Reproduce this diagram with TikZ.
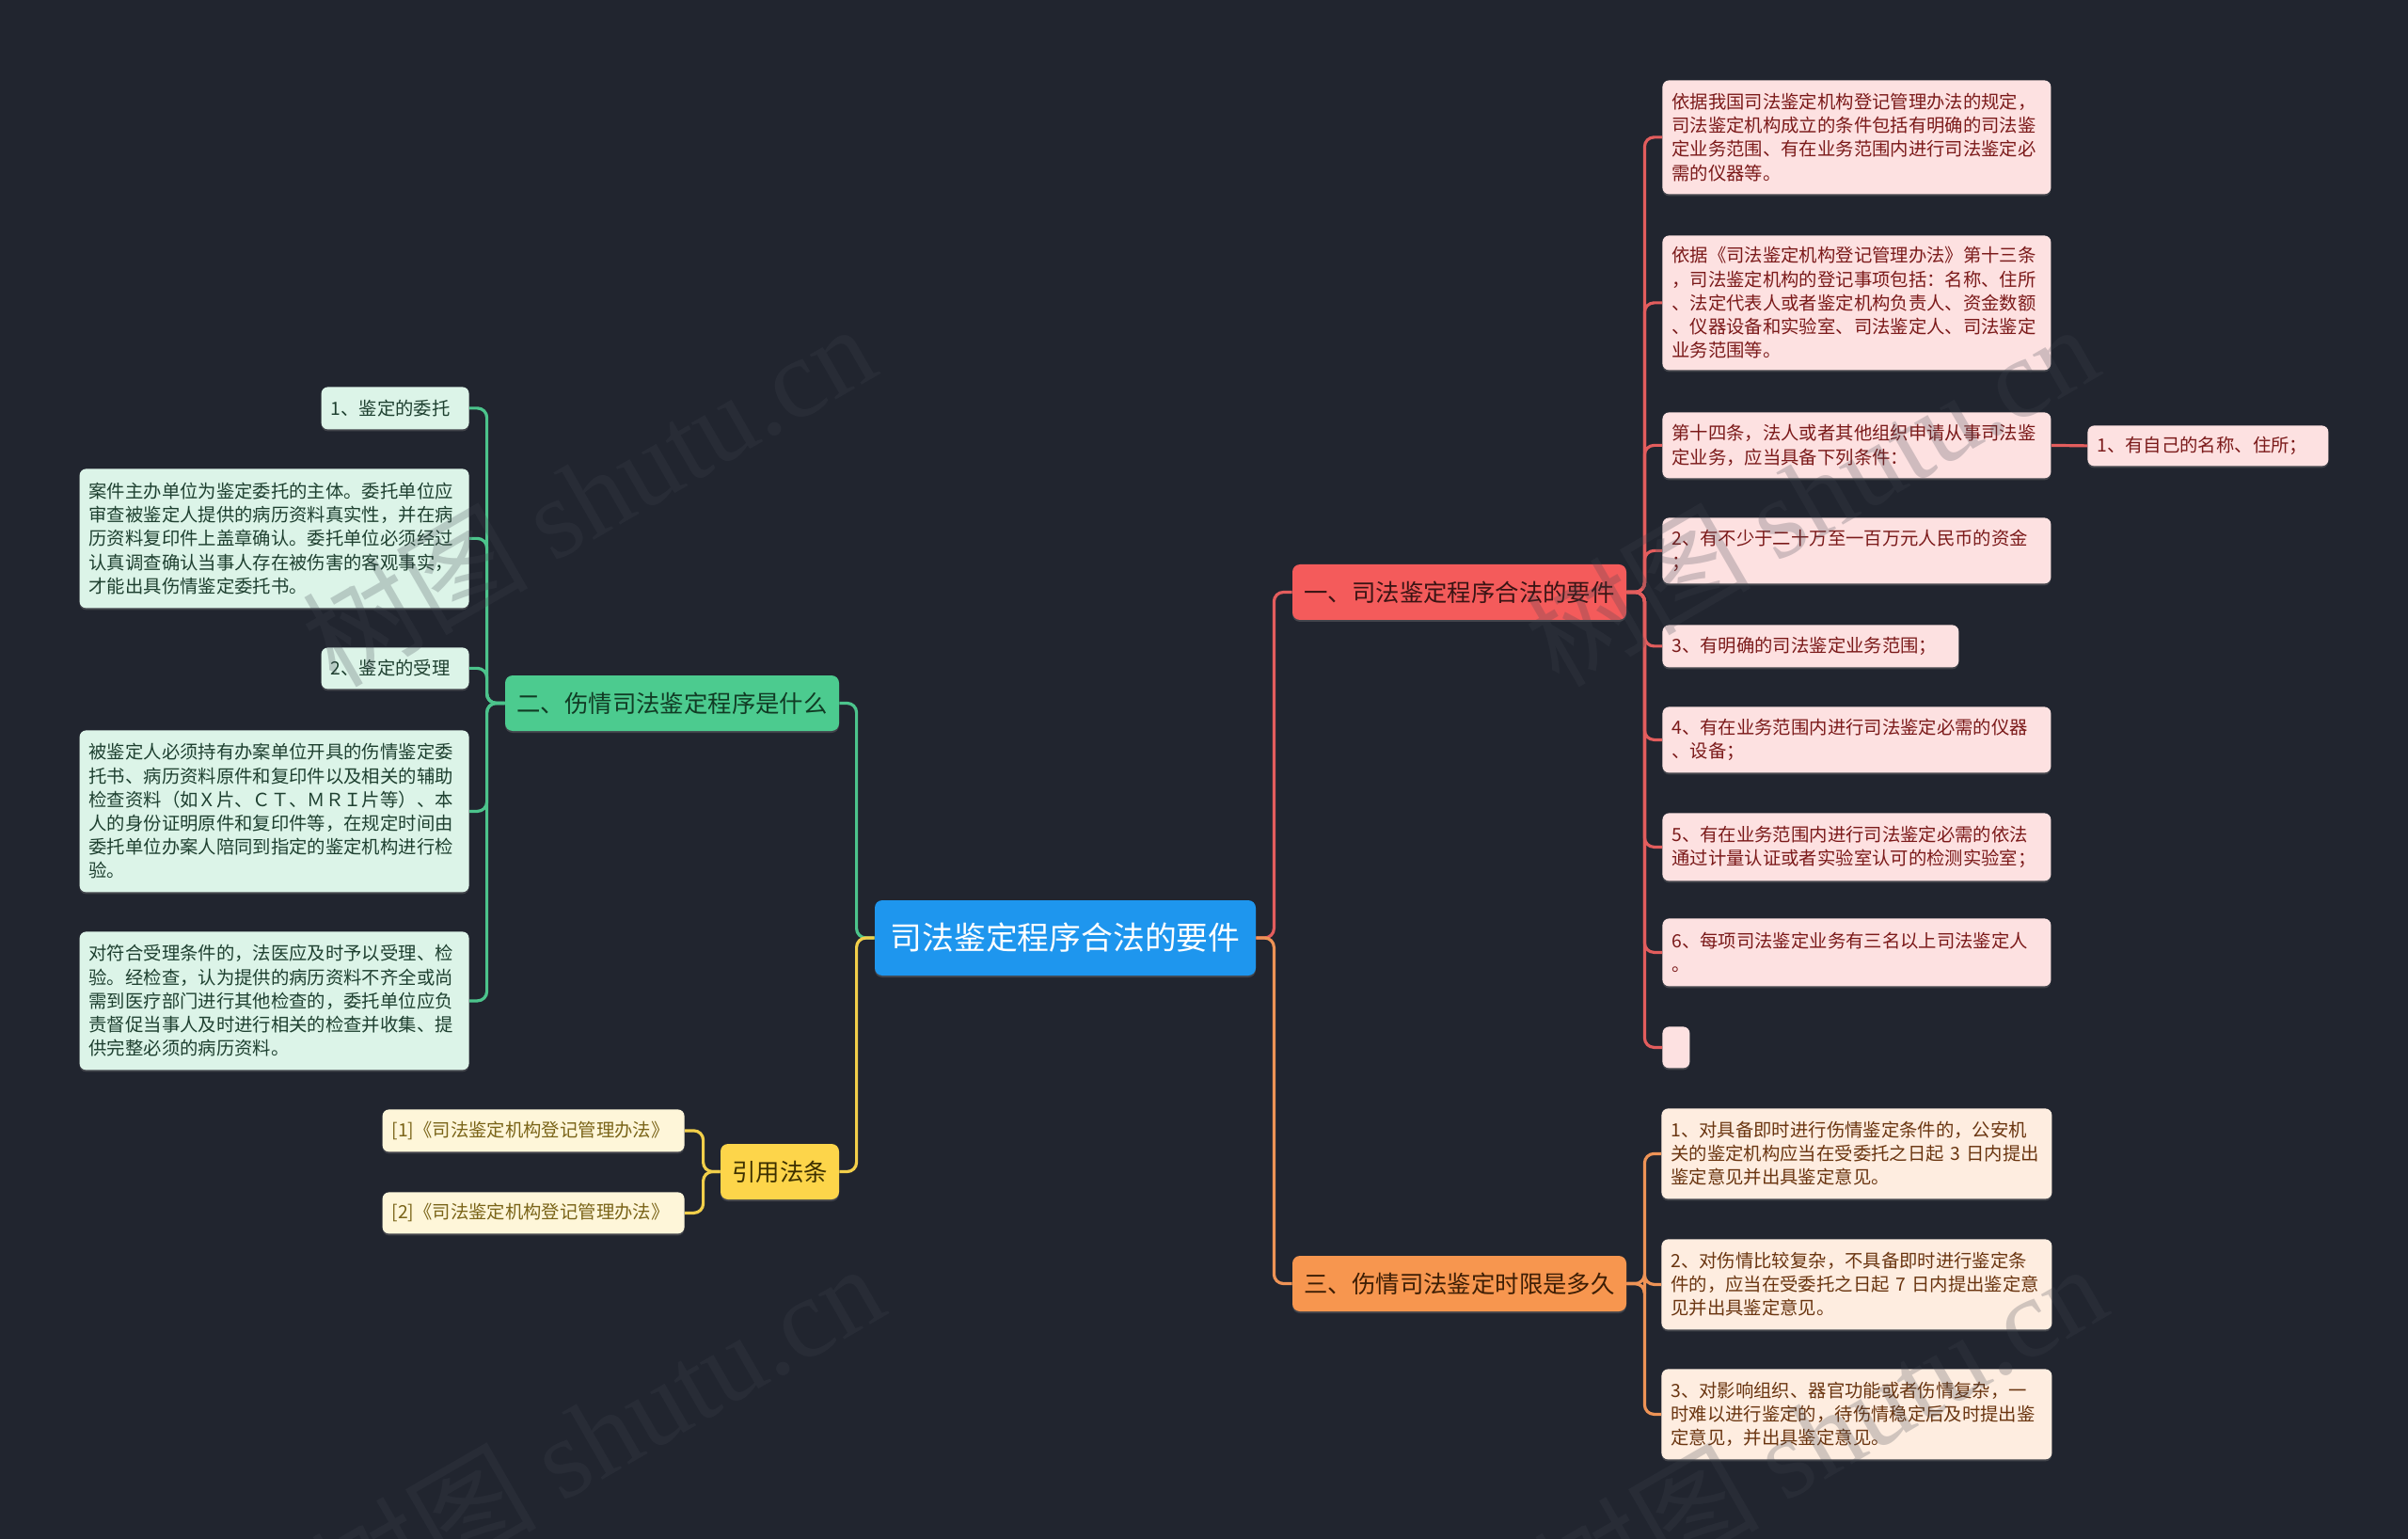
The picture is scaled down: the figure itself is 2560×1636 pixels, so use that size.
\documentclass[tikz,border=0pt]{standalone}
\usepackage{fontspec}
\setmainfont{Noto Sans CJK SC}
\newfontfamily\wmfont{Liberation Serif}
\usetikzlibrary{shadows}
\definecolor{bg}{HTML}{21252F}
\definecolor{cfill}{HTML}{1E96EE}
\definecolor{rbfill}{HTML}{F45B5B}
\definecolor{rbtext}{HTML}{3A1414}
\definecolor{rlfill}{HTML}{FDE1E1}
\definecolor{rltext}{HTML}{7B1A1A}
\definecolor{rline}{HTML}{E35D5D}
\definecolor{gbfill}{HTML}{4CCB8F}
\definecolor{gbtext}{HTML}{113B24}
\definecolor{glfill}{HTML}{DCF4E8}
\definecolor{gltext}{HTML}{1E4030}
\definecolor{gline}{HTML}{4CC48C}
\definecolor{obfill}{HTML}{F7964F}
\definecolor{obtext}{HTML}{3D1E05}
\definecolor{olfill}{HTML}{FEEDE0}
\definecolor{oltext}{HTML}{6A3510}
\definecolor{oline}{HTML}{EE9356}
\definecolor{ybfill}{HTML}{FDD54A}
\definecolor{ybtext}{HTML}{3D3000}
\definecolor{ylfill}{HTML}{FEF6D9}
\definecolor{yltext}{HTML}{7A6418}
\definecolor{yline}{HTML}{F2CF4A}
\definecolor{wmcol}{HTML}{404550}
\begin{document}
\begin{tikzpicture}[x=0.5pt,y=-0.5pt,
  leafbase/.style={rounded corners=3.5pt, inner xsep=5pt, inner ysep=0pt, align=left,
    font=\fontsize{9.68pt}{12.6pt}\selectfont,
    drop shadow={opacity=0.35,shadow xshift=0pt,shadow yshift=-1pt}},
  rleaf/.style={leafbase, fill=rlfill, text=rltext, anchor=north west},
  oleaf/.style={leafbase, fill=olfill, text=oltext, anchor=north west},
  gleaf/.style={leafbase, fill=glfill, text=gltext, anchor=north east},
  yleaf/.style={leafbase, fill=ylfill, text=yltext, anchor=north east},
  branch/.style={rounded corners=4pt, inner sep=0pt, font=\fontsize{12.7pt}{15pt}\selectfont,
    minimum width=177.5pt, minimum height=29.5pt,
    drop shadow={opacity=0.35,shadow xshift=0pt,shadow yshift=-1pt}},
  conn/.style={line width=1.6pt, rounded corners=5pt},
  wm/.style={text=wmcol, opacity=0.24, font=\fontsize{60pt}{60pt}\selectfont, rotate=30, inner sep=0pt}
]
\fill[bg] (0,0) rectangle (2560,1636);
\useasboundingbox (0,0) rectangle (2560,1636);

% center
\node[rounded corners=4pt, fill=cfill, text=white, inner sep=0pt, minimum width=202.5pt, minimum height=40pt,
  font=\fontsize{16.9pt}{20pt}\selectfont,
  drop shadow={opacity=0.35,shadow xshift=0pt,shadow yshift=-1pt}] (c) at (1132.5,997) {司法鉴定程序合法的要件};

% branches
\node[branch, fill=rbfill, text=rbtext] (rb) at (1551.5,629.5) {一、司法鉴定程序合法的要件};
\node[branch, fill=obfill, text=obtext] (ob) at (1551.5,1364.5) {三、伤情司法鉴定时限是多久};
\node[branch, fill=gbfill, text=gbtext] (gb) at (714.5,747.5) {二、伤情司法鉴定程序是什么};
\node[branch, fill=ybfill, text=ybtext, minimum width=63pt] (yb) at (829,1245.5) {引用法条};

% red leaves
\node[rleaf, text width=196.5pt, minimum height=60.5pt] (r1) at (1767,85) {依据我国司法鉴定机构登记管理办法的规定，\\司法鉴定机构成立的条件包括有明确的司法鉴\\定业务范围、有在业务范围内进行司法鉴定必\\需的仪器等。};
\node[rleaf, text width=196.5pt, minimum height=71.5pt] (r2) at (1767,250) {依据《司法鉴定机构登记管理办法》第十三条\\，司法鉴定机构的登记事项包括：名称、住所\\、法定代表人或者鉴定机构负责人、资金数额\\、仪器设备和实验室、司法鉴定人、司法鉴定\\业务范围等。};
\node[rleaf, text width=196.5pt, minimum height=35pt] (r3) at (1767,438) {第十四条，法人或者其他组织申请从事司法鉴\\定业务，应当具备下列条件：};
\node[rleaf, text width=118pt, minimum height=21.5pt] (r3c) at (2219,452) {1、有自己的名称、住所；};
\node[rleaf, text width=196.5pt, minimum height=35pt] (r4) at (1767,550) {2、有不少于二十万至一百万元人民币的资金\\；};
\node[rleaf, text width=147.5pt, minimum height=22.5pt] (r5) at (1767,664) {3、有明确的司法鉴定业务范围；};
\node[rleaf, text width=196.5pt, minimum height=35pt] (r6) at (1767,751) {4、有在业务范围内进行司法鉴定必需的仪器\\、设备；};
\node[rleaf, text width=196.5pt, minimum height=36pt] (r7) at (1767,864) {5、有在业务范围内进行司法鉴定必需的依法\\通过计量认证或者实验室认可的检测实验室；};
\node[rleaf, text width=196.5pt, minimum height=36pt] (r8) at (1767,976) {6、每项司法鉴定业务有三名以上司法鉴定人\\。};
\node[rleaf, text width=4.5pt, minimum height=22pt] (r9) at (1767,1091) {};

% orange leaves
\node[oleaf, text width=197.5pt, minimum height=48pt] (o1) at (1766,1178) {1、对具备即时进行伤情鉴定条件的，公安机\\关的鉴定机构应当在受委托之日起~3~日内提出\\鉴定意见并出具鉴定意见。};
\node[oleaf, text width=197.5pt, minimum height=48pt] (o2) at (1766,1317) {2、对伤情比较复杂，不具备即时进行鉴定条\\件的，应当在受委托之日起~7~日内提出鉴定意\\见并出具鉴定意见。};
\node[oleaf, text width=197.5pt, minimum height=48pt] (o3) at (1766,1455) {3、对影响组织、器官功能或者伤情复杂，一\\时难以进行鉴定的，待伤情稳定后及时提出鉴\\定意见，并出具鉴定意见。};

% green leaves
\node[gleaf, text width=68.5pt, minimum height=22.5pt] (g1) at (499,411) {1、鉴定的委托};
\node[gleaf, text width=197pt, minimum height=74pt] (g2) at (499,498) {案件主办单位为鉴定委托的主体。委托单位应\\审查被鉴定人提供的病历资料真实性，并在病\\历资料复印件上盖章确认。委托单位必须经过\\认真调查确认当事人存在被伤害的客观事实，\\才能出具伤情鉴定委托书。};
\node[gleaf, text width=68.5pt, minimum height=22pt] (g3) at (499,688) {2、鉴定的受理};
\node[gleaf, text width=197pt, minimum height=86pt] (g4) at (499,776) {被鉴定人必须持有办案单位开具的伤情鉴定委\\托书、病历资料原件和复印件以及相关的辅助\\检查资料（如Ｘ片、ＣＴ、ＭＲＩ片等）、本\\人的身份证明原件和复印件等，在规定时间由\\委托单位办案人陪同到指定的鉴定机构进行检\\验。};
\node[gleaf, text width=197pt, minimum height=73.5pt] (g5) at (499,990) {对符合受理条件的，法医应及时予以受理、检\\验。经检查，认为提供的病历资料不齐全或尚\\需到医疗部门进行其他检查的，委托单位应负\\责督促当事人及时进行相关的检查并收集、提\\供完整必须的病历资料。};

% yellow leaves
\node[yleaf, text width=150.5pt, minimum height=22.5pt] (y1) at (728,1179) {[1]《司法鉴定机构登记管理办法》};
\node[yleaf, text width=150.5pt, minimum height=22pt] (y2) at (728,1267) {[2]《司法鉴定机构登记管理办法》};

% connectors: center to branches
\draw[conn, rline] (c.east) -- ++(19,0) |- (rb.west);
\draw[conn, oline] (c.east) -- ++(19,0) |- (ob.west);
\draw[conn, gline] (c.west) -- ++(-19,0) |- (gb.east);
\draw[conn, yline] (c.west) -- ++(-19,0) |- (yb.east);

% red branch to leaves
\foreach \n in {r1,r2,r3,r4,r5,r6,r7,r8,r9}
  \draw[conn, rline] (rb.east) -- ++(19,0) |- (\n.west);
\draw[conn, rline] (r3.east) -- (r3c.west);

% orange
\foreach \n in {o1,o2,o3}
  \draw[conn, oline] (ob.east) -- ++(19,0) |- (\n.west);

% green
\foreach \n in {g1,g2,g3,g4,g5}
  \draw[conn, gline] (gb.west) -- ++(-19,0) |- (\n.east);

% yellow
\foreach \n in {y1,y2}
  \draw[conn, yline] (yb.west) -- ++(-18,0) |- (\n.east);

% watermarks
\node[wm] (w1) at (625,525) {树图 {\wmfont shutu.cn}};
\node[wm] (w2) at (1925,525) {树图 {\wmfont shutu.cn}};
\node[wm] (w3) at (634,1524) {树图 {\wmfont shutu.cn}};
\node[wm] (w4) at (1934,1524) {树图 {\wmfont shutu.cn}};
\end{tikzpicture}
\end{document}
